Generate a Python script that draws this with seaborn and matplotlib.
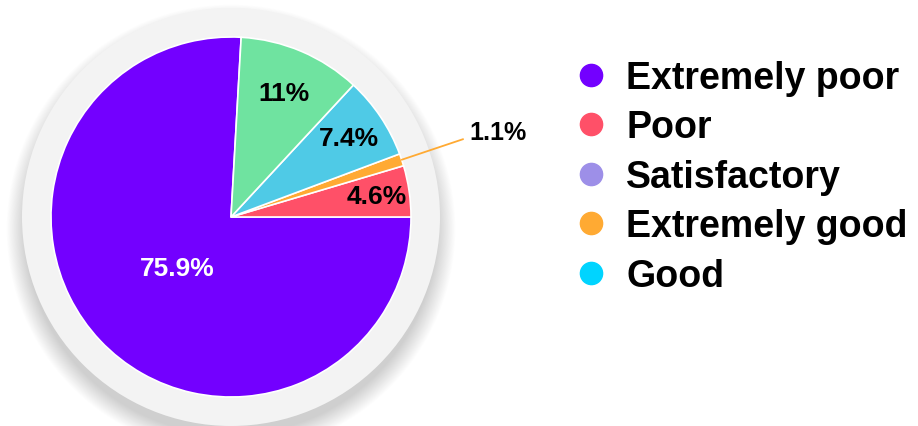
import numpy as np
import matplotlib
matplotlib.use("Agg")
import matplotlib.pyplot as plt
from matplotlib.patches import Circle
from matplotlib.lines import Line2D
import seaborn as sns

# Data (pie order, counter-clockwise from the east)
categories = ['Extremely poor', 'Poor', 'Extremely good', 'Good', 'Satisfactory']
values = [75.9, 4.6, 1.1, 7.4, 11]
slice_colors = ['#7300ff', '#ff5068', '#ffaa33', '#4fcae6', '#6fe3a0']

# Legend (as shown in the reference)
legend_labels = ['Extremely poor', 'Poor', 'Satisfactory', 'Extremely good', 'Good']
legend_colors = ['#7300ff', '#ff5068', '#9d8fe8', '#ffaa33', '#00d4ff']

sns.set_theme(style="white")
plt.rcParams['font.family'] = ['Liberation Sans', 'DejaVu Sans']
plt.rcParams['text.color'] = 'black'

W, H = 918, 427
fig = plt.figure(figsize=(W / 100, H / 100), dpi=100)
ax = fig.add_axes([0, 0, 1, 1])

cx, cy = 231, H - 218
R = 180

# soft shadow + grey backdrop disc
for i in range(24):
    ax.add_patch(Circle((cx, cy - 12), 206 + i * 0.8, color='black',
                        alpha=0.006, lw=0, zorder=0))
ax.add_patch(Circle((cx, cy), 209, color='#f3f3f3', lw=0, zorder=1))

start = 360 - values[0] / 100 * 360   # purple ends exactly at east
wedges, _ = ax.pie(values, colors=slice_colors, startangle=start, counterclock=True,
                   center=(cx, cy), radius=R, frame=True,
                   wedgeprops=dict(edgecolor='white', linewidth=1.2))
ax.set_xlim(0, W)
ax.set_ylim(0, H)
ax.axis('off')

label_r = {'Extremely poor': 0.41, 'Poor': 0.82, 'Good': 0.79, 'Satisfactory': 0.75}
for w, cat, v in zip(wedges, categories, values):
    w.set_zorder(2)
    mid = np.deg2rad((w.theta1 + w.theta2) / 2)
    txt = f"{v:g}%"
    if cat in label_r:
        f = label_r[cat]
        col = 'white' if cat == 'Extremely poor' else 'black'
        ax.text(cx + f * R * np.cos(mid), cy + f * R * np.sin(mid), txt,
                ha='center', va='center', fontsize=19, fontweight='bold',
                color=col, zorder=5)
    else:
        x0, y0 = cx + R * np.cos(mid), cy + R * np.sin(mid)
        x1, y1 = cx + 1.36 * R * np.cos(mid), cy + 1.36 * R * np.sin(mid)
        ax.plot([x0, x1], [y0, y1], color=w.get_facecolor(), lw=1.3, zorder=5)
        ax.text(x1 + 6, y1 + 7, txt, ha='left', va='center', fontsize=18,
                fontweight='bold', color='black', zorder=5)

handles = [Line2D([0], [0], marker='o', linestyle='', markersize=16,
                  markerfacecolor=c, markeredgecolor=c) for c in legend_colors]
leg = ax.legend(handles, legend_labels, loc='upper left',
                bbox_to_anchor=(572 / W, 1 - 61 / H), frameon=False,
                prop={'family': 'Liberation Sans', 'weight': 'bold', 'size': 27},
                handletextpad=0.45, labelspacing=0.36, handlelength=1.0,
                borderaxespad=0, borderpad=0)
for t in leg.get_texts():
    t.set_color('black')

fig.savefig('out.png', dpi=100)
